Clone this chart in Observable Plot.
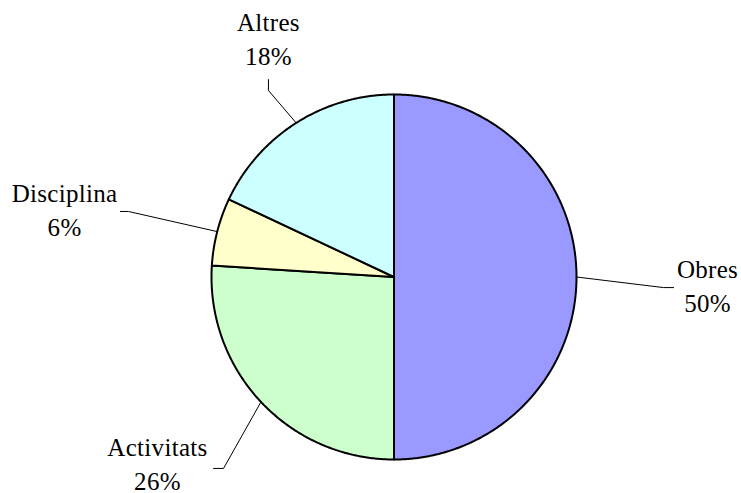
<!DOCTYPE html>
<html>
<head>
<meta charset="utf-8">
<script src="https://cdn.jsdelivr.net/npm/d3@7"></script>
<script src="https://cdn.jsdelivr.net/npm/@observablehq/plot@0.6"></script>
<style>
  html, body { margin: 0; padding: 0; background: #fff; }
  svg { display: block; }
  svg text { font-family: "Liberation Serif", "Times New Roman", "DejaVu Serif", serif !important; letter-spacing: 0.3px; }
</style>
</head>
<body>
<div id="chart"></div>
<script>
// ---- data ----
const categories = ["Obres", "Activitats", "Disciplina", "Altres"];
const values = [50, 26, 6, 18];
const percentLabels = ["50%", "26%", "6%", "18%"];
const colors = ["#9999FF", "#CCFFCC", "#FFFFCC", "#CCFFFF"];

// ---- label layout (data units, radius = 1) ----
const labelPos = {
  "Obres":      {lx: 1.718,  ly: -0.041, ex: 1.477,  ey: -0.058, tx: 1.532,  ty: -0.058},
  "Activitats": {lx: -1.296, ly: -1.013, ex: -0.934, ey: -1.049, tx: -0.989, ty: -1.049},
  "Disciplina": {lx: -1.805, ly: 0.375,  ex: -1.455, ey: 0.359,  tx: -1.499, ty: 0.359},
  "Altres":     {lx: -0.688, ly: 1.312,  ex: -0.688, ey: 1.022,  tx: -0.688, ty: 1.082}
};

const table = categories.map((c, i) => ({label: c, value: values[i], pct: percentLabels[i]}));
const arcs = d3.pie().sort(null).value(d => d.value)(table);

// slice polygons
const slicePts = [];
for (const a of arcs) {
  slicePts.push({label: a.data.label, x: 0, y: 0});
  const n = Math.max(2, Math.ceil((a.endAngle - a.startAngle) / (Math.PI / 360)));
  for (let k = 0; k <= n; k++) {
    const t = a.startAngle + (a.endAngle - a.startAngle) * k / n;
    slicePts.push({label: a.data.label, x: Math.sin(t), y: Math.cos(t)});
  }
}

// leader lines: from slice mid-angle on the rim to elbow, then to end
const leaderPts = [];
for (const a of arcs) {
  const m = (a.startAngle + a.endAngle) / 2;
  const L = labelPos[a.data.label];
  leaderPts.push({label: a.data.label, x: Math.sin(m), y: Math.cos(m)});
  leaderPts.push({label: a.data.label, x: L.ex, y: L.ey});
  leaderPts.push({label: a.data.label, x: L.tx, y: L.ty});
}

const labels = arcs.map(a => ({
  text: a.data.label + "\n" + a.data.pct,
  x: labelPos[a.data.label].lx,
  y: labelPos[a.data.label].ly
}));

const chart = Plot.plot({
  width: 741,
  height: 493,
  marginLeft: 211,
  marginRight: 165,
  marginTop: 94,
  marginBottom: 34,
  x: {domain: [-1, 1], axis: null},
  y: {domain: [-1, 1], axis: null},
  color: {type: "ordinal", domain: categories, range: colors},
  style: {background: "#fff", overflow: "visible", fontFamily: "Liberation Serif, serif"},
  marks: [
    Plot.line(slicePts, {
      x: "x", y: "y", z: "label", fill: "label",
      stroke: "black", strokeWidth: 2, curve: "linear-closed", strokeLinejoin: "round"
    }),
    Plot.line(leaderPts, {x: "x", y: "y", z: "label", stroke: "black", strokeWidth: 1}),
    Plot.text(labels, {
      x: "x", y: "y", text: "text",
      fontFamily: "Liberation Serif, serif", fontSize: 25, lineHeight: 1.36,
      fill: "black", textAnchor: "middle", lineAnchor: "middle"
    })
  ]
});
document.getElementById("chart").appendChild(chart);
</script>
</body>
</html>
